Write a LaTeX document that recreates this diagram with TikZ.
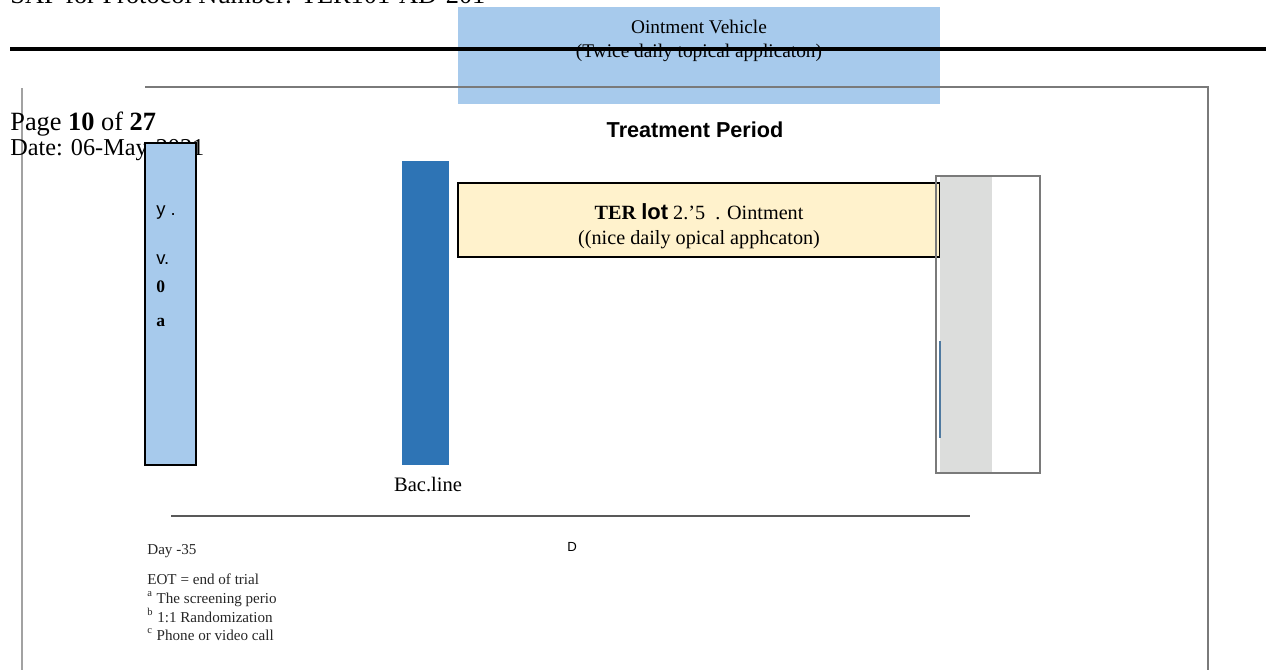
\documentclass[tikz,border=0pt]{standalone}
\usepackage{fontspec}
\setmainfont{Liberation Serif}
\setsansfont{Liberation Sans}
\definecolor{vehblue}{HTML}{A7CAEC}
\definecolor{basblue}{HTML}{2E74B5}
\definecolor{terye}{HTML}{FFF2CC}
\definecolor{eotgray}{HTML}{DCDDDC}
\definecolor{framegray}{HTML}{7A7A7A}
\begin{document}
\begin{tikzpicture}[x=0.02cm,y=-0.02cm,
	txt/.style={inner sep=0pt, font=\fontsize{11}{13.6}\selectfont},
	hdr/.style={inner sep=0pt, font=\fontsize{15}{16}\selectfont},
	fnote/.style={inner sep=0pt, anchor=base west, text=black!85, font=\fontsize{8.6}{9}\selectfont}]
		\useasboundingbox (0,0) rectangle (1266,670);
		% page header
		\node[hdr, anchor=base west] (sap) at (10,3) {SAP for Protocol Number: TER101-AD-201};
		% vehicle arm
		\fill[vehblue] (458,7) rectangle (940,104);
		\node[txt, align=center] (veh) at (699,41) {Ointment Vehicle\\(Twice daily topical applicaton)};
		\draw[line width=2pt] (10,49) -- (1266,49);
		% frame
		\draw[framegray, line width=0.8pt] (145,87) -- (1208,87) -- (1208,670);
		\draw[framegray!70, line width=0.8pt] (22,88) -- (22,670);
		\node[hdr, anchor=base west, align=left] (pg) at (10,130) {Page \textbf{10} of \textbf{27}};
		\node[hdr, anchor=base west, font=\fontsize{13.8}{16}\selectfont] (date) at (10,155) {Date: 06-May-2021};
		\node[inner sep=0pt, font=\sffamily\bfseries\fontsize{12.3}{14}\selectfont] (tp) at (695,130) {Treatment Period};
		% screening
		\draw[fill=vehblue, line width=0.9pt] (145,143) rectangle (196,465);
		\node[txt, anchor=base west, font=\sffamily\fontsize{10.5}{12}\selectfont] (s1) at (156,215) {y .};
		\node[txt, anchor=base west, font=\sffamily\fontsize{10.5}{12}\selectfont] (s2) at (156,264) {v.};
		\node[txt, anchor=base west, font=\bfseries\fontsize{10}{12}\selectfont] (s3) at (156,292) {0};
		\node[txt, anchor=base west, font=\bfseries\fontsize{10}{12}\selectfont] (s4) at (156,326) {a};
		% baseline
		\fill[basblue] (402,161) rectangle (449,465);
		\node[txt, font=\fontsize{11.7}{13}\selectfont] (bl) at (428,485) {Bac.line};
		% active arm
		\draw[fill=terye, line width=1.1pt] (458,183) rectangle (940,257);
		\node[txt, align=center, font=\fontsize{11.5}{14}\selectfont] (ter) at (699,226) {\textbf{TER} {\sffamily\bfseries\fontsize{12.5}{12}\selectfont lot} 2.'5\ \ . Ointment\\((nice daily opical apphcaton)};
		% end of trial
		\fill[eotgray] (940,177) rectangle (992,472);
		\draw[framegray, line width=1pt] (936,176) rectangle (1040,473);
		\draw[basblue!60!gray, line width=0.8pt] (940,341) -- (940,438);
		% timeline
		\draw[black!65, line width=0.8pt] (171,516) -- (970,516);
		\node[inner sep=0pt, font=\sffamily\fontsize{7.5}{9}\selectfont] (dd) at (572,547) {D};
		% footnotes
		\begin{scope}
			\clip (140,535) rectangle (275,645);
			\node[fnote] (f0) at (147,554) {Day -35};
			\node[fnote] (f1) at (147,584) {EOT = end of trial};
			\node[fnote] (f2) at (147,603) {$^{\mathrm{a}}$ The screening period};
			\node[fnote] (f3) at (147,622) {$^{\mathrm{b}}$ 1:1 Randomization};
			\node[fnote] (f4) at (147,640) {$^{\mathrm{c}}$ Phone or video call};
		\end{scope}
	\end{tikzpicture}
\end{document}
